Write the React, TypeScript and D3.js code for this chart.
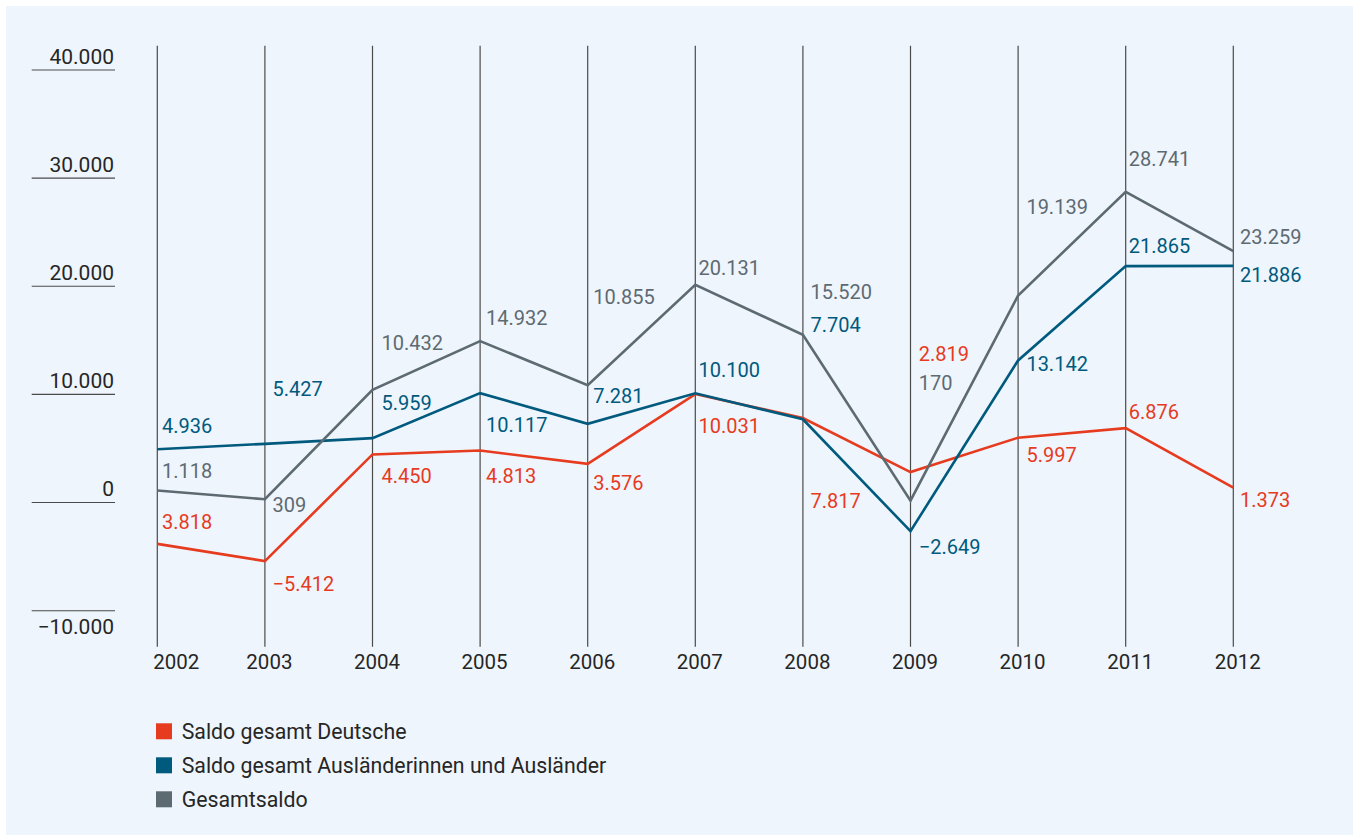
import React from "react";
import * as d3 from "d3";

const years = [2002, 2003, 2004, 2005, 2006, 2007, 2008, 2009, 2010, 2011, 2012];
const deutsche = [-3818, -5412, 4450, 4813, 3576, 10031, 7817, 2819, 5997, 6876, 1373];
const auslaender = [4936, 5427, 5959, 10117, 7281, 10100, 7704, -2649, 13142, 21865, 21886];
const gesamt = [1118, 309, 10432, 14932, 10855, 20131, 15520, 170, 19139, 28741, 23259];

const deutscheLabels = ["3.818", "−5.412", "4.450", "4.813", "3.576", "10.031", "7.817", "2.819", "5.997", "6.876", "1.373"];
const auslaenderLabels = ["4.936", "5.427", "5.959", "10.117", "7.281", "10.100", "7.704", "−2.649", "13.142", "21.865", "21.886"];
const gesamtLabels = ["1.118", "309", "10.432", "14.932", "10.855", "20.131", "15.520", "170", "19.139", "28.741", "23.259"];

const yTicks = [40000, 30000, 20000, 10000, 0, -10000];
const seriesNames = ["Saldo gesamt Deutsche", "Saldo gesamt Ausländerinnen und Ausländer", "Gesamtsaldo"];

// label layout (pixel offsets relative to the data point)
const labelDx = [4.7, 7.7, 9, 6, 5.6, 3.3, 7.7, 8.3, 8.3, 3, 6.7];
const deutscheDy = [-15, 30, 29, 32, 26, 39, 90, -111, 24, -9, 19];
const auslaenderDy = [-16, -48, -28, 39, -21, -16, -87, 23, 11, -13.5, 16];
const gesamtDy = [-12.5, 12.4, -40, -16, -81, -10, -35.5, -111, -81.6, -26, -7];

const COLORS = ["#e63b1f", "#005a7e", "#5e6a72"];
const FONT = "Roboto, 'Liberation Sans', Arial, sans-serif";

const de = d3.formatLocale({ decimal: ",", thousands: ".", grouping: [3], currency: ["", " €"], minus: "−" });
const fmt = de.format(",");

export default function App() {
  const W = 1353, H = 835;
  const x = d3.scaleLinear().domain([2002, 2012]).range([157.3, 1233.3]);
  const y = d3.scaleLinear().domain([-10000, 40000]).range([610.7, 70]);
  const line = d3.line<number>().x((_, i) => x(years[i])).y((d) => y(d));

  const series = [
    { values: deutsche, labels: deutscheLabels, dy: deutscheDy },
    { values: auslaender, labels: auslaenderLabels, dy: auslaenderDy },
    { values: gesamt, labels: gesamtLabels, dy: gesamtDy },
  ];

  return (
    <svg width={W} height={H} style={{ position: "absolute", left: 0, top: 0 }} fontFamily={FONT}>
      <rect x={0} y={0} width={W} height={H} fill="#ffffff" />
      <rect x={6} y={6} width={W - 6} height={H - 6} fill="#eef5fc" />
      {/* y axis tick lines and labels */}
      {yTicks.map((t) => (
        <g key={t}>
          <line x1={31.7} x2={115} y1={y(t)} y2={y(t)} stroke="#4a4a4a" strokeWidth={1.1} />
          <text x={114} y={t < 0 ? y(t) + 23.3 : y(t) - 6.3} textAnchor="end" fontSize={21} fill="#262626">
            {fmt(t)}
          </text>
        </g>
      ))}
      {/* vertical year lines */}
      {years.map((yr, i) => (
        <g key={yr}>
          <line x1={x(yr)} x2={x(yr)} y1={45.7} y2={646.7} stroke="#4a4a4a" strokeWidth={1.2} />
          <text
            x={i === 0 ? x(yr) - 4 : x(yr) + 4.5}
            y={669.3}
            textAnchor={i === 0 ? "start" : "middle"}
            fontSize={20.5}
            fill="#262626"
          >
            {yr}
          </text>
        </g>
      ))}
      {/* lines */}
      {series.map((s, k) => (
        <path key={k} d={line(s.values) || ""} fill="none" stroke={COLORS[k]} strokeWidth={2.6} />
      ))}
      {/* data labels */}
      {series.map((s, k) =>
        s.values.map((v, i) => (
          <text key={`${k}-${i}`} x={x(years[i]) + labelDx[i]} y={y(v) + s.dy[i]} fontSize={20} fill={COLORS[k]}>
            {s.labels[i]}
          </text>
        ))
      )}
      {/* legend */}
      {seriesNames.map((n, k) => (
        <g key={n} transform={`translate(156, ${723.3 + k * 34})`}>
          <rect x={0} y={0} width={16} height={16} fill={COLORS[k]} />
          <text x={25.7} y={16} fontSize={21.3} fill="#262626">
            {n}
          </text>
        </g>
      ))}
    </svg>
  );
}
